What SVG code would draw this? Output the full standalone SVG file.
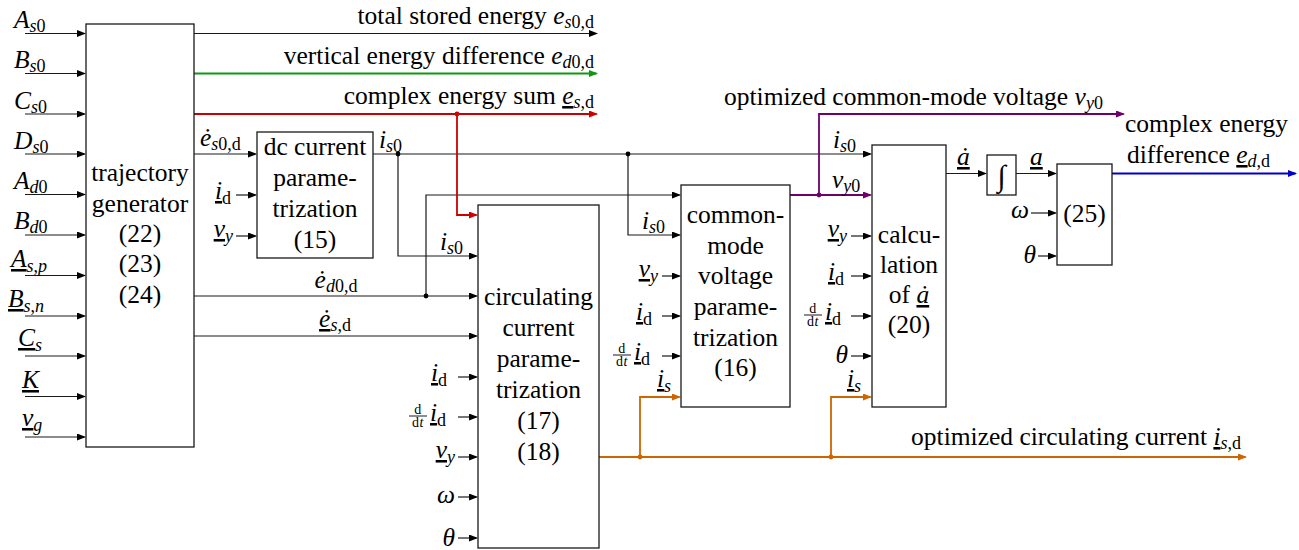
<svg xmlns="http://www.w3.org/2000/svg" width="1299" height="550" viewBox="0 0 1299 550" font-family="'Liberation Serif', 'DejaVu Serif', 'Times New Roman', serif">
<style>
.blk{fill:#fff;stroke:#1a1a1a;stroke-width:1.3}
.w{fill:none;stroke:#1a1a1a;stroke-width:1.2}
.g{fill:none;stroke:#0f990f;stroke-width:1.8}
.r{fill:none;stroke:#cc0000;stroke-width:1.8}
.o{fill:none;stroke:#cc6600;stroke-width:1.8}
.p{fill:none;stroke:#6e006e;stroke-width:1.8}
.b{fill:none;stroke:#0000cc;stroke-width:1.8}
text{font-family:'Liberation Serif','DejaVu Serif',serif;font-size:25.5px;fill:#000}
.c{text-anchor:middle}
.e{text-anchor:end}
.i{font-style:italic}
.s{font-size:18px}
.u{text-decoration:underline}
.fr{font-size:14px;text-anchor:middle;letter-spacing:0.5px}
.bar{stroke:#000;stroke-width:0.9}
</style>
<defs>
<marker id="ak" markerUnits="userSpaceOnUse" markerWidth="10" markerHeight="8" refX="7.5" refY="3.5" orient="auto"><path d="M0,0 L9,3.5 L0,7 z" fill="#000"/></marker>
<marker id="ag" markerUnits="userSpaceOnUse" markerWidth="10" markerHeight="8" refX="7.5" refY="3.5" orient="auto"><path d="M0,0 L9,3.5 L0,7 z" fill="#0f990f"/></marker>
<marker id="ar" markerUnits="userSpaceOnUse" markerWidth="10" markerHeight="8" refX="7.5" refY="3.5" orient="auto"><path d="M0,0 L9,3.5 L0,7 z" fill="#cc0000"/></marker>
<marker id="ao" markerUnits="userSpaceOnUse" markerWidth="10" markerHeight="8" refX="7.5" refY="3.5" orient="auto"><path d="M0,0 L9,3.5 L0,7 z" fill="#cc6600"/></marker>
<marker id="ap" markerUnits="userSpaceOnUse" markerWidth="10" markerHeight="8" refX="7.5" refY="3.5" orient="auto"><path d="M0,0 L9,3.5 L0,7 z" fill="#6e006e"/></marker>
<marker id="ab" markerUnits="userSpaceOnUse" markerWidth="10" markerHeight="8" refX="7.5" refY="3.5" orient="auto"><path d="M0,0 L9,3.5 L0,7 z" fill="#0000cc"/></marker>
</defs>
<rect width="1299" height="550" fill="#fff"/>

<g id="connectors">
<g marker-end="url(#ak)" class="w">
<path d="M25,33.5H84.5"/><path d="M25,73.5H84.5"/><path d="M25,114H84.5"/><path d="M25,154H84.5"/>
<path d="M25,194.5H84.5"/><path d="M25,235H84.5"/><path d="M25,275.5H84.5"/><path d="M25,316H84.5"/>
<path d="M25,356H84.5"/><path d="M25,396.5H84.5"/><path d="M25,437H84.5"/>
<path d="M194,33.5H596.5"/>
<path d="M194,154H255.5"/>
<path d="M236,195H255.5"/><path d="M236,236H255.5"/>
<path d="M373,154H870.5"/>
<path d="M398,154V256H476.5"/>
<path d="M628,154V235H679.5"/>
<path d="M194,296H476.5"/>
<path d="M426,296V195H679.5"/>
<path d="M194,336H476.5"/>
<path d="M458,377H476.5"/><path d="M458,417H476.5"/><path d="M458,457H476.5"/><path d="M458,497H476.5"/><path d="M458,538H476.5"/>
<path d="M662,276H679.5"/><path d="M662,316H679.5"/><path d="M662,356H679.5"/>
<path d="M851,236H870.5"/><path d="M851,276H870.5"/><path d="M851,316H870.5"/><path d="M851,356H870.5"/>
<path d="M946,173.5H985.5"/>
<path d="M1016,173.5H1055.5"/>
<path d="M1031,213H1055.5"/><path d="M1038,256H1055.5"/>
</g>
<path class="g" marker-end="url(#ag)" d="M194,73.5H596.5"/>
<path class="r" marker-end="url(#ar)" d="M194,114H596.5"/>
<path class="r" marker-end="url(#ar)" d="M457,114V215H476.5"/>
<path class="o" marker-end="url(#ao)" d="M599,457H1245.5"/>
<path class="o" marker-end="url(#ao)" d="M640,457V397H679.5"/>
<path class="o" marker-end="url(#ao)" d="M831,457V397H870.5"/>
<path class="p" marker-end="url(#ap)" d="M790,195H870.5"/>
<path class="p" marker-end="url(#ap)" d="M819,195V114H1123.5"/>
<path class="b" marker-end="url(#ab)" d="M1112,173.5H1295.5"/>
<circle cx="457" cy="114" r="2.4" fill="#cc0000"/>
<circle cx="398" cy="154" r="2.4" fill="#000"/>
<circle cx="628" cy="154" r="2.4" fill="#000"/>
<circle cx="426" cy="296" r="2.4" fill="#000"/>
<circle cx="640" cy="457" r="2.4" fill="#cc6600"/>
<circle cx="831" cy="457" r="2.4" fill="#cc6600"/>
<circle cx="819" cy="195" r="2.4" fill="#6e006e"/>
</g>

<g id="trajectory-generator">
<rect class="blk" x="86" y="24" width="108" height="423"/>
<text class="c" x="140" y="181">trajectory</text>
<text class="c" x="140" y="212">generator</text>
<text class="c" x="140" y="242">(22)</text>
<text class="c" x="140" y="272">(23)</text>
<text class="c" x="140" y="303">(24)</text>
</g>

<g id="dc-current">
<rect class="blk" x="257" y="132" width="116" height="126"/>
<text class="c" x="315" y="155">dc current</text>
<text class="c" x="315" y="186">parame-</text>
<text class="c" x="315" y="217">trization</text>
<text class="c" x="315" y="248">(15)</text>
<text x="215" y="199"><tspan class="i u">i</tspan><tspan class="s" dy="5">d</tspan></text>
<text class="e" x="233" y="237"><tspan class="i u">v</tspan><tspan class="s i" dy="5">y</tspan></text>
</g>

<g id="circulating-current">
<rect class="blk" x="478" y="205" width="121" height="343"/>
<text class="c" x="538.5" y="305">circulating</text>
<text class="c" x="538.5" y="336">current</text>
<text class="c" x="538.5" y="367">parame-</text>
<text class="c" x="538.5" y="398">trization</text>
<text class="c" x="538.5" y="429">(17)</text>
<text class="c" x="538.5" y="460">(18)</text>
<text x="431" y="381"><tspan class="i u">i</tspan><tspan class="s" dy="5">d</tspan></text>
<text class="fr"><tspan x="418" y="413.5">d</tspan><tspan x="418" y="427">d<tspan class="i">t</tspan></tspan></text>
<line class="bar" x1="409" y1="416" x2="427" y2="416"/>
<text x="430" y="421"><tspan class="i u">i</tspan><tspan class="s" dy="5">d</tspan></text>
<text class="e" x="455" y="458"><tspan class="i u">v</tspan><tspan class="s i" dy="5">y</tspan></text>
<text class="e i" x="455" y="503">ω</text>
<text class="e i" x="455" y="546">θ</text>
</g>

<g id="common-mode">
<rect class="blk" x="681" y="185" width="109" height="222"/>
<text class="c" x="735.5" y="223">common-</text>
<text class="c" x="735.5" y="254">mode</text>
<text class="c" x="735.5" y="284">voltage</text>
<text class="c" x="735.5" y="315">parame-</text>
<text class="c" x="735.5" y="346">trization</text>
<text class="c" x="735.5" y="376">(16)</text>
<text class="e" x="658" y="277"><tspan class="i u">v</tspan><tspan class="s i" dy="5">y</tspan></text>
<text x="636" y="320"><tspan class="i u">i</tspan><tspan class="s" dy="5">d</tspan></text>
<text class="fr"><tspan x="622" y="352.5">d</tspan><tspan x="622" y="366">d<tspan class="i">t</tspan></tspan></text>
<line class="bar" x1="613" y1="355" x2="631" y2="355"/>
<text x="634" y="360"><tspan class="i u">i</tspan><tspan class="s" dy="5">d</tspan></text>
</g>

<g id="calculation">
<rect class="blk" x="872" y="145" width="74" height="262"/>
<text class="c" x="909" y="243">calcu-</text>
<text class="c" x="909" y="273">lation</text>
<text class="c" x="909" y="303">of <tspan class="i u">ȧ</tspan></text>
<text class="c" x="909" y="333">(20)</text>
<text class="e" x="847" y="237"><tspan class="i u">v</tspan><tspan class="s i" dy="5">y</tspan></text>
<text x="828" y="280"><tspan class="i u">i</tspan><tspan class="s" dy="5">d</tspan></text>
<text class="fr"><tspan x="813" y="312.5">d</tspan><tspan x="813" y="326">d<tspan class="i">t</tspan></tspan></text>
<line class="bar" x1="804" y1="315" x2="822" y2="315"/>
<text x="825" y="320"><tspan class="i u">i</tspan><tspan class="s" dy="5">d</tspan></text>
<text class="e i" x="848" y="363">θ</text>
</g>

<g id="integrator">
<rect class="blk" x="987" y="155" width="29" height="40"/>
<text class="c i" x="1001.5" y="186" style="font-size:30px">∫</text>
</g>

<g id="block-25">
<rect class="blk" x="1057" y="164" width="55" height="101"/>
<text class="c" x="1084.5" y="222">(25)</text>
<text class="e i" x="1029" y="218">ω</text>
<text class="e i" x="1036" y="263">θ</text>
</g>

<g id="labels">
<text x="14" y="28"><tspan class="i">A</tspan><tspan class="s i" dy="4">s</tspan><tspan class="s">0</tspan></text>
<text x="14" y="68"><tspan class="i">B</tspan><tspan class="s i" dy="4">s</tspan><tspan class="s">0</tspan></text>
<text x="14" y="109"><tspan class="i">C</tspan><tspan class="s i" dy="4">s</tspan><tspan class="s">0</tspan></text>
<text x="14" y="149"><tspan class="i">D</tspan><tspan class="s i" dy="4">s</tspan><tspan class="s">0</tspan></text>
<text x="14" y="189"><tspan class="i">A</tspan><tspan class="s i" dy="4">d</tspan><tspan class="s">0</tspan></text>
<text x="14" y="229"><tspan class="i">B</tspan><tspan class="s i" dy="4">d</tspan><tspan class="s">0</tspan></text>
<text x="11" y="267"><tspan class="i u">A</tspan><tspan class="s i" dy="5">s</tspan><tspan class="s">,</tspan><tspan class="s i">p</tspan></text>
<text x="8" y="307"><tspan class="i u">B</tspan><tspan class="s i" dy="5">s</tspan><tspan class="s">,</tspan><tspan class="s i">n</tspan></text>
<text x="18" y="346"><tspan class="i u">C</tspan><tspan class="s i" dy="5">s</tspan></text>
<text x="22" y="388"><tspan class="i u">K</tspan></text>
<text x="22" y="426"><tspan class="i u">v</tspan><tspan class="s i" dy="5">g</tspan></text>

<text class="e" x="594" y="24">total stored energy <tspan class="i">e</tspan><tspan class="s i" dy="4">s</tspan><tspan class="s">0,d</tspan></text>
<text class="e" x="594" y="64">vertical energy difference <tspan class="i">e</tspan><tspan class="s i" dy="4">d</tspan><tspan class="s">0,d</tspan></text>
<text class="e" x="594" y="104">complex energy sum <tspan class="i u">e</tspan><tspan class="s i" dy="4">s</tspan><tspan class="s">,d</tspan></text>
<text x="724" y="105">optimized common-mode voltage <tspan class="i">v</tspan><tspan class="s i" dy="4">y</tspan><tspan class="s">0</tspan></text>
<text x="1125" y="132">complex energy</text>
<text x="1127" y="163">difference <tspan class="i u">e</tspan><tspan class="s i" dy="4">d</tspan><tspan class="s">,d</tspan></text>
<text class="e" x="1241" y="445">optimized circulating current <tspan class="i u">i</tspan><tspan class="s i" dy="4">s</tspan><tspan class="s">,d</tspan></text>

<text x="200" y="146"><tspan class="i">ė</tspan><tspan class="s i" dy="4">s</tspan><tspan class="s">0,d</tspan></text>
<text x="379" y="148"><tspan class="i">i</tspan><tspan class="s i" dy="4">s</tspan><tspan class="s">0</tspan></text>
<text class="c" x="336" y="288"><tspan class="i">ė</tspan><tspan class="s i" dy="4">d</tspan><tspan class="s">0,d</tspan></text>
<text class="c" x="335" y="327"><tspan class="i u">ė</tspan><tspan class="s i" dy="4">s</tspan><tspan class="s">,d</tspan></text>
<text x="440" y="250"><tspan class="i">i</tspan><tspan class="s i" dy="4">s</tspan><tspan class="s">0</tspan></text>
<text x="642" y="229"><tspan class="i">i</tspan><tspan class="s i" dy="4">s</tspan><tspan class="s">0</tspan></text>
<text x="833" y="148"><tspan class="i">i</tspan><tspan class="s i" dy="4">s</tspan><tspan class="s">0</tspan></text>
<text x="832" y="188"><tspan class="i">v</tspan><tspan class="s i" dy="4">y</tspan><tspan class="s">0</tspan></text>
<text x="657" y="387"><tspan class="i u">i</tspan><tspan class="s i" dy="5">s</tspan></text>
<text x="847" y="387"><tspan class="i u">i</tspan><tspan class="s i" dy="5">s</tspan></text>
<text x="957" y="165"><tspan class="i u">ȧ</tspan></text>
<text x="1030" y="165"><tspan class="i u">a</tspan></text>
</g>
</svg>
